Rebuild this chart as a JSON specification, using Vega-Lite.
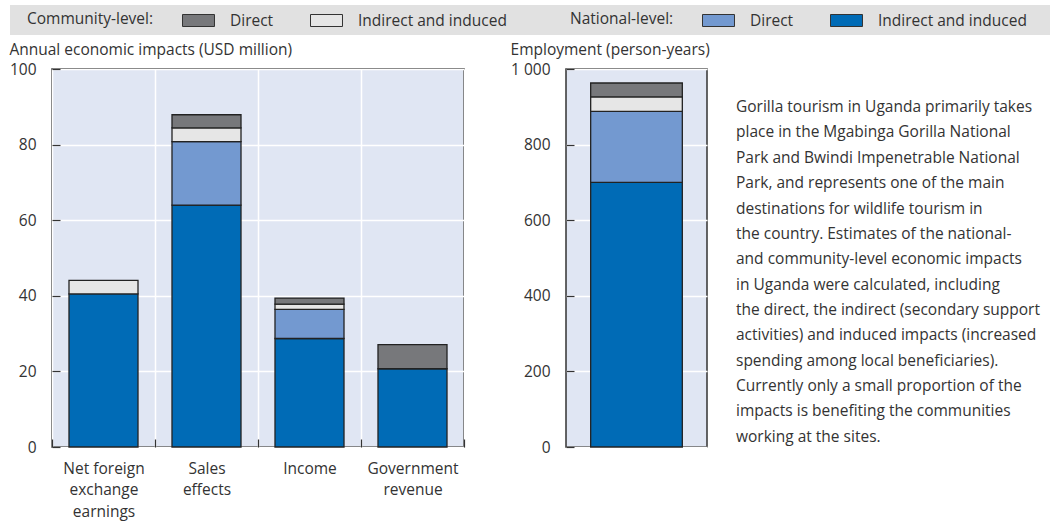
{
  "$schema": "https://vega.github.io/schema/vega-lite/v6.json",
  "padding": {"left": 8, "top": 5, "right": 0, "bottom": 0},
  "background": "white",
  "datasets": {
    "bars": [
      {"chart": "econ", "category": "Net foreign exchange earnings", "series": "National-level: Indirect and induced", "value": 40.5},
      {"chart": "econ", "category": "Net foreign exchange earnings", "series": "Community-level: Indirect and induced", "value": 3.6},
      {"chart": "econ", "category": "Sales effects", "series": "National-level: Indirect and induced", "value": 64.0},
      {"chart": "econ", "category": "Sales effects", "series": "National-level: Direct", "value": 16.8},
      {"chart": "econ", "category": "Sales effects", "series": "Community-level: Indirect and induced", "value": 3.6},
      {"chart": "econ", "category": "Sales effects", "series": "Community-level: Direct", "value": 3.5},
      {"chart": "econ", "category": "Income", "series": "National-level: Indirect and induced", "value": 28.7},
      {"chart": "econ", "category": "Income", "series": "National-level: Direct", "value": 7.7},
      {"chart": "econ", "category": "Income", "series": "Community-level: Indirect and induced", "value": 1.4},
      {"chart": "econ", "category": "Income", "series": "Community-level: Direct", "value": 1.6},
      {"chart": "econ", "category": "Government revenue", "series": "National-level: Indirect and induced", "value": 20.7},
      {"chart": "econ", "category": "Government revenue", "series": "Community-level: Direct", "value": 6.4},
      {"chart": "emp", "category": "Employment", "series": "National-level: Indirect and induced", "value": 700},
      {"chart": "emp", "category": "Employment", "series": "National-level: Direct", "value": 188},
      {"chart": "emp", "category": "Employment", "series": "Community-level: Indirect and induced", "value": 38},
      {"chart": "emp", "category": "Employment", "series": "Community-level: Direct", "value": 37}
    ],
    "paragraph": [
      {"line": 1, "text": "Gorilla tourism in Uganda primarily takes"},
      {"line": 2, "text": "place in the Mgabinga Gorilla National"},
      {"line": 3, "text": "Park and Bwindi Impenetrable National"},
      {"line": 4, "text": "Park, and represents one of the main"},
      {"line": 5, "text": "destinations for wildlife tourism in"},
      {"line": 6, "text": "the country. Estimates of the national-"},
      {"line": 7, "text": "and community-level economic impacts"},
      {"line": 8, "text": "in Uganda were calculated, including"},
      {"line": 9, "text": "the direct, the indirect (secondary support"},
      {"line": 10, "text": "activities) and induced impacts (increased"},
      {"line": 11, "text": "spending among local beneficiaries)."},
      {"line": 12, "text": "Currently only a small proportion of the"},
      {"line": 13, "text": "impacts is benefiting the communities"},
      {"line": 14, "text": "working at the sites."}
    ]
  },
  "resolve": {"scale": {"color": "independent", "fill": "independent"}, "legend": {"color": "independent", "fill": "independent"}},
  "spacing": 6,
  "center": true,
  "vconcat": [
    {
      "width": 1078,
      "height": 30,
      "view": {"fill": "#e1e1e1", "stroke": null},
      "data": {"name": "bars"},
      "transform": [{"filter": "false"}],
      "layer": [
        {
          "mark": {"type": "bar", "stroke": "#333", "strokeWidth": 1},
          "encoding": {
            "color": {
              "field": "series", "type": "nominal",
              "scale": {"domain": ["Community-level: Direct", "Community-level: Indirect and induced"], "range": ["#77787b", "#e6e6e6"]},
              "legend": {"title": "Community-level:", "orient": "none", "legendX": 17, "legendY": 3, "direction": "horizontal",
                "labelExpr": "replace(datum.label, 'Community-level: ', '')"}
            }
          }
        },
        {
          "mark": {"type": "bar", "stroke": "#333", "strokeWidth": 1},
          "encoding": {
            "fill": {
              "field": "series", "type": "nominal",
              "scale": {"domain": ["National-level: Direct", "National-level: Indirect and induced"], "range": ["#7399d0", "#006bb6"]},
              "legend": {"title": "National-level:", "orient": "none", "legendX": 560, "legendY": 3, "direction": "horizontal",
                "labelExpr": "replace(datum.label, 'National-level: ', '')"}
            }
          }
        }
      ]
    },
    {
      "spacing": 43,
      "hconcat": [
        {
          "width": 412,
          "height": 378,
          "title": {"text": "Annual economic impacts (USD million)"},
          "data": {"name": "bars"},
          "transform": [{"filter": "datum.chart == 'econ'"}],
          "mark": {"type": "bar", "width": {"band": 0.67}, "stroke": "#222", "strokeWidth": 1.3},
          "encoding": {
            "x": {
              "field": "category", "type": "nominal",
              "sort": ["Net foreign exchange earnings", "Sales effects", "Income", "Government revenue"],
              "scale": {"paddingInner": 0, "paddingOuter": 0},
              "axis": {
                "title": null, "labelAngle": 0, "tickBand": "extent", "grid": true, "tickSize": -8,
                "labelPadding": 22, "labelLineHeight": 21.5, "labelBaseline": "top",
                "labelExpr": "datum.label == 'Net foreign exchange earnings' ? ['Net foreign', 'exchange', 'earnings'] : datum.label == 'Sales effects' ? ['Sales', 'effects'] : datum.label == 'Government revenue' ? ['Government', 'revenue'] : datum.label"
              }
            },
            "y": {
              "field": "value", "type": "quantitative", "stack": "zero",
              "scale": {"domain": [0, 100]},
              "axis": {"title": null, "values": [0, 20, 40, 60, 80, 100], "tickSize": -8, "labelPadding": 24}
            },
            "color": {
              "field": "series", "type": "nominal",
              "sort": ["National-level: Indirect and induced", "National-level: Direct", "Community-level: Indirect and induced", "Community-level: Direct"],
              "scale": {"domain": ["National-level: Indirect and induced", "National-level: Direct", "Community-level: Indirect and induced", "Community-level: Direct"], "range": ["#006bb6", "#7399d0", "#e6e6e6", "#77787b"]},
              "legend": null
            }
          }
        },
        {
          "spacing": 29,
          "bounds": "flush",
          "hconcat": [
            {
              "width": 141,
              "height": 378,
              "title": {"text": "Employment (person-years)"},
              "data": {"name": "bars"},
              "transform": [{"filter": "datum.chart == 'emp'"}],
              "mark": {"type": "bar", "width": {"band": 0.65}, "stroke": "#222", "strokeWidth": 1.3},
              "encoding": {
                "x": {"field": "category", "type": "nominal", "scale": {"paddingInner": 0, "paddingOuter": 0}, "axis": null},
                "y": {
                  "field": "value", "type": "quantitative", "stack": "zero",
                  "scale": {"domain": [0, 1000]},
                  "axis": {"title": null, "values": [0, 200, 400, 600, 800, 1000], "tickSize": -8, "labelPadding": 24,
                    "labelExpr": "replace(format(datum.value, ','), ',', ' ')"}
                },
                "color": {
                  "field": "series", "type": "nominal",
                  "sort": ["National-level: Indirect and induced", "National-level: Direct", "Community-level: Indirect and induced", "Community-level: Direct"],
                  "scale": {"domain": ["National-level: Indirect and induced", "National-level: Direct", "Community-level: Indirect and induced", "Community-level: Direct"], "range": ["#006bb6", "#7399d0", "#e6e6e6", "#77787b"]},
                  "legend": null
                }
              }
            },
            {
              "width": 310,
              "height": 378,
              "view": {"fill": null, "stroke": null},
              "data": {"name": "paragraph"},
              "mark": {"type": "text", "align": "left", "baseline": "middle", "fontSize": 15.5, "color": "#333"},
              "encoding": {
                "x": {"datum": 0, "type": "quantitative", "scale": {"domain": [0, 1]}, "axis": null},
                "y": {"field": "line", "type": "quantitative", "scale": {"domain": [-0.5, 14.4], "reverse": true, "nice": false, "zero": false}, "axis": null},
                "text": {"field": "text"}
              }
            }
          ]
        }
      ]
    }
  ],
  "config": {
    "font": "Open Sans",
    "view": {"stroke": "#333", "strokeWidth": 1.5, "fill": "#e0e6f3"},
    "axis": {"labelFont": "Open Sans", "labelFontSize": 15.5, "labelColor": "#333", "domain": false, "tickColor": "#333", "tickWidth": 1.2, "gridColor": "white", "gridWidth": 1.5, "gridOpacity": 1},
    "title": {"font": "Open Sans", "fontSize": 15.5, "fontWeight": "normal", "color": "#333", "anchor": "start", "frame": "bounds", "offset": 4},
    "text": {"font": "Open Sans"},
    "legend": {
      "titleOrient": "left", "titleFont": "Open Sans", "titleFontSize": 15.5, "titleFontWeight": "normal", "titleColor": "#333",
      "titlePadding": 32,
      "labelFont": "Open Sans", "labelFontSize": 15.5, "labelColor": "#333", "labelOffset": 19,
      "symbolType": "M-1.333,-0.5L1.333,-0.5L1.333,0.5L-1.333,0.5Z", "symbolSize": 576,
      "symbolStrokeColor": "#333", "symbolStrokeWidth": 1, "symbolOpacity": 1,
      "columnPadding": 34
    }
  }
}
